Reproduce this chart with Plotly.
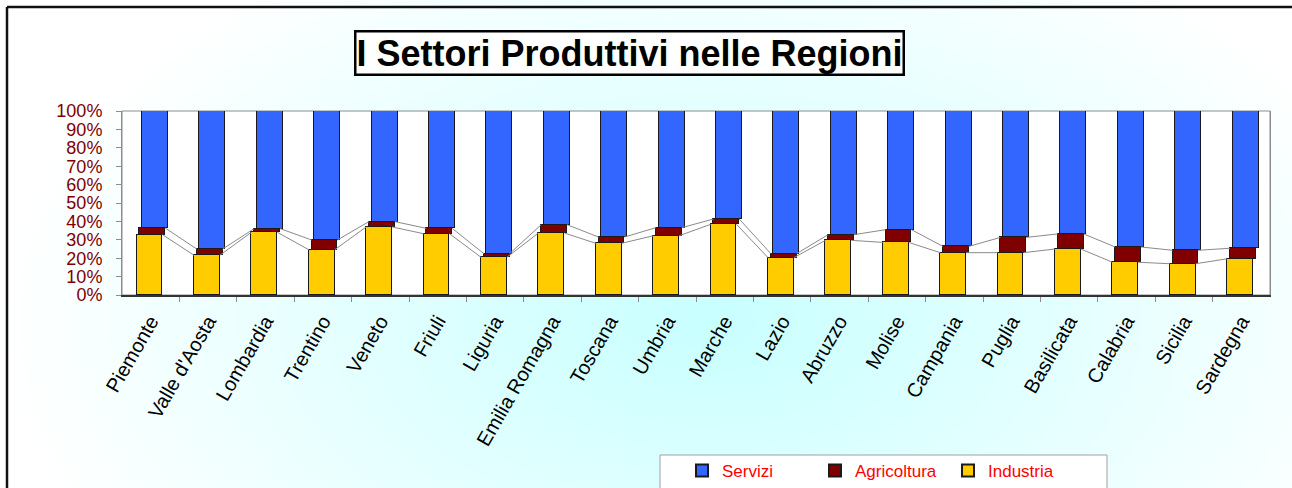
import plotly.graph_objects as go
import urllib.parse

# ---------------- data ----------------
regioni = ["Piemonte", "Valle d'Aosta", "Lombardia", "Trentino", "Veneto", "Friuli",
           "Liguria", "Emilia Romagna", "Toscana", "Umbria", "Marche", "Lazio",
           "Abruzzo", "Molise", "Campania", "Puglia", "Basilicata", "Calabria",
           "Sicilia", "Sardegna"]
industria = [32.8, 21.6, 34.1, 24.6, 37.0, 33.3, 20.5, 33.7, 28.1, 32.2,
             38.4, 20.3, 29.7, 28.6, 23.0, 23.0, 25.0, 17.8, 17.0, 19.7]
agricoltura = [3.6, 3.4, 2.0, 5.3, 2.9, 2.9, 2.0, 4.5, 3.4, 4.4,
               2.9, 2.2, 3.1, 6.9, 3.4, 8.3, 8.2, 8.3, 7.3, 5.7]
servizi = [round(100 - a - b, 1) for a, b in zip(industria, agricoltura)]
y_ticks = [0, 10, 20, 30, 40, 50, 60, 70, 80, 90, 100]

# ---------------- layout constants (page pixels) ----------------
W, H = 1292, 488
L, R, T, B = 122, 1270, 111, 295        # plot area
FONT = "Arial, Liberation Sans, sans-serif"
BAR_W = 0.45
OFF = {"Industria": -0.245, "Agricoltura": -0.197, "Servizi": -0.15}


def px_x(p):
    return (p - L) / (R - L)


def px_y(p):
    return (B - p) / (B - T)


xpos = list(range(len(regioni)))

fig = go.Figure()

series = [("Industria", industria, "#FFCC00"),
          ("Agricoltura", agricoltura, "#800000"),
          ("Servizi", servizi, "#3366FF")]
for name, vals, col in series:
    fig.add_trace(go.Bar(
        x=xpos, y=vals, name=name, width=BAR_W, offset=OFF[name],
        marker=dict(color=col, line=dict(color="#1a1a1a", width=1.5)),
    ))

# series lines (connect tops of stacked segments between neighbouring bars)
cum_ind = industria
cum_agr = [a + b for a, b in zip(industria, agricoltura)]
for cum, name in [(cum_ind, "Industria"), (cum_agr, "Agricoltura")]:
    lx, ly = [], []
    for i in range(len(regioni) - 1):
        lx += [i + OFF[name] + BAR_W, i + 1 + OFF[name], None]
        ly += [cum[i], cum[i + 1], None]
    fig.add_trace(go.Scatter(x=lx, y=ly, mode="lines", showlegend=False,
                             hoverinfo="skip",
                             line=dict(color="#8a8a8a", width=1)))

svg = (
    f'<svg xmlns="http://www.w3.org/2000/svg" width="{W}" height="{H}">'
    '<defs><radialGradient id="g" cx="0.55" cy="0.66" r="0.55" '
    'gradientTransform="translate(0.55,0.66) scale(1,1.6) translate(-0.55,-0.66)">'
    '<stop offset="0" stop-color="#c8ffff"/>'
    '<stop offset="1" stop-color="#ffffff"/></radialGradient></defs>'
    f'<rect width="{W}" height="{H}" fill="url(#g)"/></svg>'
)
src = "data:image/svg+xml;charset=utf-8," + urllib.parse.quote(svg)

border = dict(color="#111111", width=2.5)

fig.update_layout(
    width=W, height=H,
    margin=dict(l=L, r=W - R, t=T, b=H - B, pad=0, autoexpand=False),
    paper_bgcolor="white",
    plot_bgcolor="rgba(0,0,0,0)",
    barmode="stack",
    bargap=0,
    font=dict(family=FONT),
    images=[dict(source=src, xref="paper", yref="paper",
                 x=px_x(0), y=px_y(0), sizex=W / (R - L), sizey=H / (B - T),
                 xanchor="left", yanchor="top", sizing="stretch", layer="below")],
    shapes=[
        # white plot area
        dict(type="rect", xref="paper", yref="paper", x0=0, x1=1, y0=0, y1=1,
             fillcolor="white", line=dict(color="#8c8c8c", width=1), layer="below"),
        # outer chart border: top and left edges (others run off the page)
        dict(type="line", xref="paper", yref="paper",
             x0=px_x(7), x1=px_x(W + 5), y0=px_y(7), y1=px_y(7),
             line=border, layer="above"),
        dict(type="line", xref="paper", yref="paper",
             x0=px_x(7), x1=px_x(7), y0=px_y(7), y1=px_y(H + 5),
             line=border, layer="above"),
        # legend box
        dict(type="rect", xref="paper", yref="paper",
             x0=px_x(660), x1=px_x(1107), y0=px_y(H + 10), y1=px_y(455),
             fillcolor="white", line=dict(color="#a0a0a0", width=1), layer="below"),
    ],
    annotations=[dict(
        text="<b>I Settori Produttivi nelle Regioni</b>",
        xref="paper", yref="paper", x=px_x(629), y=px_y(53),
        xanchor="center", yanchor="middle", showarrow=False,
        font=dict(size=36, color="black", family=FONT),
        bgcolor="white", bordercolor="black", borderwidth=2.5, borderpad=0,
    )],
    xaxis=dict(
        range=[-0.5, len(regioni) - 0.5],
        tickmode="array", tickvals=xpos, ticktext=regioni,
        tickangle=-60, ticks="", ticklabelstandoff=5,
        tickfont=dict(size=20, color="black", family=FONT),
        showgrid=False, zeroline=False,
        showline=True, linecolor="#333333", linewidth=1.5,
        minor=dict(tickmode="array", tickvals=[i + 0.5 for i in xpos[:-1]],
                   ticks="outside", ticklen=5, tickcolor="#8c8c8c", showgrid=False),
    ),
    yaxis=dict(
        range=[0, 100], tickmode="array", tickvals=y_ticks,
        ticktext=[f"{v}%" for v in y_ticks],
        ticks="outside", ticklen=5, tickcolor="#8c8c8c", ticklabelstandoff=10,
        tickfont=dict(size=18, color="#800000", family=FONT),
        showgrid=False, zeroline=False,
        showline=True, linecolor="#8c8c8c", linewidth=1, mirror=True,
    ),
    legend=dict(
        orientation="h", traceorder="reversed",
        x=px_x(682), y=px_y(453), xanchor="left", yanchor="top",
        bgcolor="rgba(0,0,0,0)", borderwidth=0,
        font=dict(size=17, color="#ff0000", family=FONT),
        entrywidth=88, entrywidthmode="pixels",
        itemsizing="constant",
    ),
    showlegend=True,
)

# remove the page's default body margin / scrollbars so the figure sits at (0, 0)
fig.write_html(
    "out.html",
    config={"displayModeBar": False},
    post_script="document.body.style.margin='0';"
                "document.documentElement.style.overflow='hidden';"
                "document.body.style.overflow='hidden';",
)
